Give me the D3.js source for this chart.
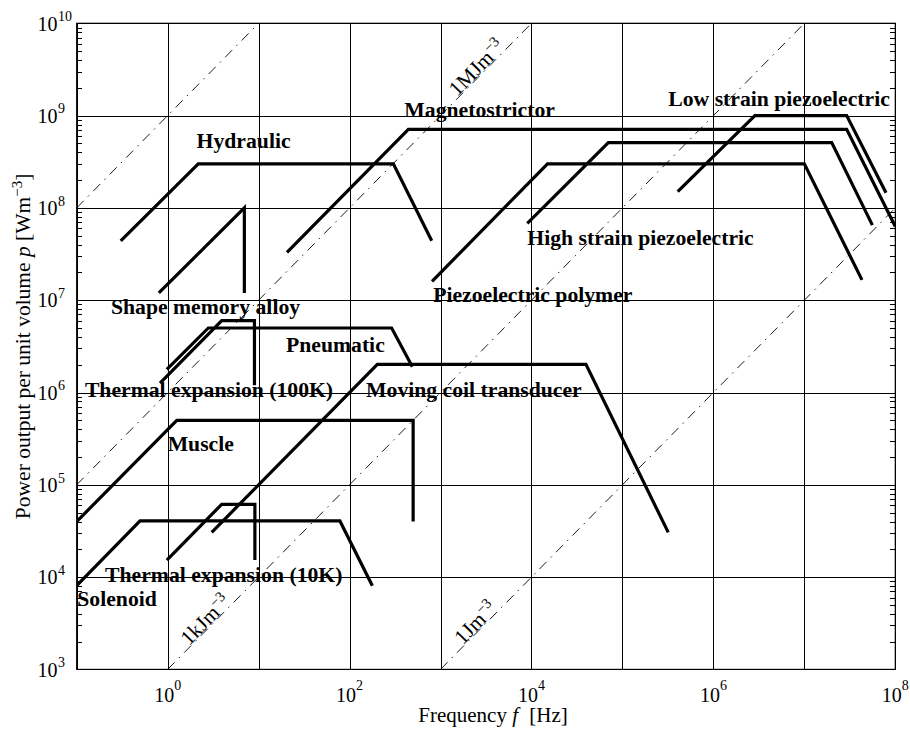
<!DOCTYPE html>
<html><head><meta charset="utf-8">
<script src="https://cdn.jsdelivr.net/npm/d3@7"></script>
<style>
body{margin:0;background:#fff}
text{font-family:"Liberation Serif","Times New Roman",Times,serif;fill:#000}
</style>
</head><body>
<svg id="chart" width="910" height="730"></svg>
<script>
// ---------- DATA (frequency f [Hz], power density p [W/m^3]) ----------
const xGridDecades = [1e-1,1e0,1e1,1e2,1e3,1e4,1e5,1e6,1e7,1e8];
const xLabelExponents = [0,2,4,6,8];
const yGridDecades = [1e3,1e4,1e5,1e6,1e7,1e8,1e9,1e10];
const yLabelExponents = [3,4,5,6,7,8,9,10];

// constant energy-density lines p = E * f  [J/m^3]
const energyDensities = [1e9, 1e6, 1e3, 1];
const energyLabelNames = ["1MJm", "1kJm", "1Jm"];
const energyLabelValues = [1e6, 1e3, 1];
const energyLabelFreqs = [2880, 3.0, 2790];

// actuator envelopes, [f, p] vertices
const hydraulic        = [[0.305,4.4e7],[2.17,3.0e8],[303,3.0e8],[800,4.4e7]];
const magnetostrictor  = [[20.5,3.3e7],[443,7.1e8],[2.92e7,7.1e8],[1.0e8,6.3e7]];
const lowStrainPiezo   = [[4.05e5,1.5e8],[2.86e6,1.0e9],[2.92e7,1.0e9],[7.9e7,1.46e8]];
const highStrainPiezo  = [[9.0e3,6.8e7],[7.0e4,5.1e8],[2.0e7,5.1e8],[5.6e7,6.5e7]];
const piezoPolymer     = [[807,1.6e7],[1.5e4,3.0e8],[1.0e7,3.0e8],[4.3e7,1.66e7]];
const shapeMemoryAlloy = [[0.80,1.2e7],[6.97,1.0e8],[6.97,1.2e7]];
const pneumatic        = [[0.98,1.78e6],[2.8,5.0e6],[290,5.0e6],[490,1.9e6]];
const thermal100K      = [[0.824,1.26e6],[3.93,6.0e6],[9.0,6.0e6],[9.0,1.2e6]];
const movingCoil       = [[3.05,3.05e4],[202,2.02e6],[3.97e4,2.02e6],[3.19e5,3.05e4]];
const muscle           = [[0.1,4.0e4],[1.26,5.0e5],[500,5.0e5],[500,4.0e4]];
const solenoid         = [[0.1,8.07e3],[0.497,4.06e4],[78.3,4.06e4],[178,8.07e3]];
const thermal10K       = [[0.98,1.53e4],[3.93,6.15e4],[9.1,6.15e4],[9.1,1.53e4]];

// label texts and their anchor (left baseline) in data coordinates
const labelTexts = ["Hydraulic","Magnetostrictor","Low strain piezoelectric","High strain piezoelectric",
  "Piezoelectric polymer","Shape memory alloy","Pneumatic","Thermal expansion (100K)",
  "Moving coil transducer","Muscle","Thermal expansion (10K)","Solenoid"];
const labelF = [2.08, 400, 3.19e5, 8.99e3, 830, 0.238, 20.0, 0.123, 152, 1.0, 0.205, 0.1016];
const labelP = [4.43e8, 9.73e8, 1.27e9, 3.96e7, 9.64e6, 7.08e6, 2.73e6, 8.87e5, 9.02e5, 2.34e5, 8.91e3, 4.86e3];

// ---------- LAYOUT ----------
const L = 76.7, R = 895.3, T = 23.3, B = 669.4;
const svg = d3.select("#chart");
const x = d3.scaleLog().domain([1e-1, 1e8]).range([L, R]);
const y = d3.scaleLog().domain([1e3, 1e10]).range([B, T]);

svg.append("defs").append("clipPath").attr("id","plotclip")
  .append("rect").attr("x",L).attr("y",T).attr("width",R-L).attr("height",B-T);

// grid via axes
const gx = svg.append("g").attr("transform",`translate(0,${B})`)
  .call(d3.axisBottom(x).tickValues(xGridDecades).tickSize(-(B-T)).tickSizeOuter(0).tickFormat(""));
gx.select(".domain").remove();
gx.selectAll(".tick line").attr("stroke","#000").attr("stroke-width",1).attr("shape-rendering","crispEdges");

const gy = svg.append("g").attr("transform",`translate(${L},0)`)
  .call(d3.axisLeft(y).tickValues(yGridDecades).tickSize(-(R-L)).tickSizeOuter(0).tickFormat(""));
gy.select(".domain").remove();
gy.selectAll(".tick line").attr("stroke","#000").attr("stroke-width",1).attr("shape-rendering","crispEdges");

// minor ticks on y (left and right, inward)
const minorY = [];
for (let e = 3; e < 10; e++) for (let m = 2; m <= 9; m++) minorY.push(m * Math.pow(10, e));
const gmL = svg.append("g").attr("transform",`translate(${L},0)`)
  .call(d3.axisLeft(y).tickValues(minorY).tickSize(-5).tickSizeOuter(0).tickFormat(""));
gmL.select(".domain").remove();
gmL.selectAll("line").attr("stroke","#000").attr("shape-rendering","crispEdges");
const gmR = svg.append("g").attr("transform",`translate(${R},0)`)
  .call(d3.axisRight(y).tickValues(minorY).tickSize(-5).tickSizeOuter(0).tickFormat(""));
gmR.select(".domain").remove();
gmR.selectAll("line").attr("stroke","#000").attr("shape-rendering","crispEdges");

const plot = svg.append("g").attr("clip-path","url(#plotclip)");

// energy density lines
const fMin = 1e-1, fMax = 1e8, pMin = 1e3, pMax = 1e10;
energyDensities.forEach(E => {
  const f0 = Math.max(fMin, pMin / E), f1 = Math.min(fMax, pMax / E);
  plot.append("line")
    .attr("x1", x(f0)).attr("y1", y(E * f0))
    .attr("x2", x(f1)).attr("y2", y(E * f1))
    .attr("stroke","#000").attr("stroke-width",0.9)
    .attr("stroke-dasharray","10,6,1.5,6");
});

// actuator curves
const line = d3.line().x(d => x(d[0])).y(d => y(d[1]));
[hydraulic, magnetostrictor, lowStrainPiezo, highStrainPiezo, piezoPolymer, shapeMemoryAlloy,
 pneumatic, thermal100K, movingCoil, muscle, solenoid, thermal10K].forEach(s => {
  plot.append("path").attr("d", line(s)).attr("fill","none")
    .attr("stroke","#000").attr("stroke-width",3.2).attr("stroke-linejoin","miter");
});

// energy labels along lines
const ang = Math.atan((y(1e3) - y(1e4)) / (x(10) - x(1))) * 180 / Math.PI;
energyLabelNames.forEach((t, i) => {
  const f = energyLabelFreqs[i], p = energyLabelValues[i] * f;
  const tx = svg.append("text")
    .attr("transform", `translate(${x(f)},${y(p)}) rotate(${-ang})`)
    .attr("text-anchor","middle").attr("dy", -1)
    .style("font-size","21px");
  tx.append("tspan").text(t);
  tx.append("tspan").attr("dy",-8).style("font-size","14.5px").text("\u22123");
});

// series labels
labelTexts.forEach((t, i) => {
  svg.append("text").attr("x", x(labelF[i])).attr("y", y(labelP[i]))
    .style("font-size","21.7px").style("font-weight","bold").text(t);
});

// border
svg.append("rect").attr("x",L).attr("y",T).attr("width",R-L).attr("height",B-T)
  .attr("fill","none").attr("stroke","#000").attr("stroke-width",1.2);

// x tick labels
xLabelExponents.forEach(e => {
  const t = svg.append("text").attr("x", x(Math.pow(10,e))).attr("y", 701.5)
    .attr("text-anchor","middle").style("font-size","20px");
  t.append("tspan").text("10");
  t.append("tspan").attr("dy",-12).style("font-size","14px").text(String(e));
});

// y tick labels
yLabelExponents.forEach(e => {
  const yy = y(Math.pow(10,e));
  svg.append("text").attr("x",57.5).attr("y",yy+7.2).attr("text-anchor","end")
    .style("font-size","20px").text("10");
  svg.append("text").attr("x",58).attr("y",yy-2.3)
    .style("font-size","14px").text(String(e));
});

// axis titles
const xt = svg.append("text").attr("x",493).attr("y",722).attr("text-anchor","middle")
  .style("font-size","21px");
xt.append("tspan").text("Frequency ");
xt.append("tspan").style("font-style","italic").text("f");
xt.append("tspan").attr("dx",6).text(" [Hz]");

const yt = svg.append("text").attr("transform",`translate(30,${(T+B)/2}) rotate(-90)`)
  .attr("text-anchor","middle").style("font-size","21.5px");
yt.append("tspan").text("Power output per unit volume ");
yt.append("tspan").style("font-style","italic").text("p");
yt.append("tspan").text(" [Wm");
yt.append("tspan").attr("dy",-8).style("font-size","15px").text("\u22123");
yt.append("tspan").attr("dy",8).text("]");
</script>
</body></html>
